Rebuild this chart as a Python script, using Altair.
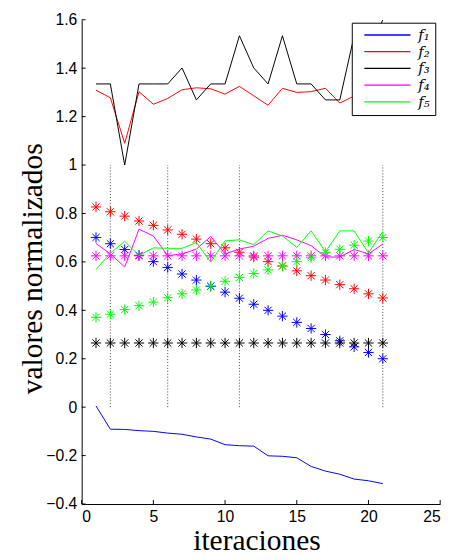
import altair as alt
import pandas as pd

iters = [1, 2, 3, 4, 5, 6, 7, 8, 9, 10, 11, 12, 13, 14, 15, 16, 17, 18, 19, 20, 21]
series_names = ["f₁", "f₂", "f₃", "f₄", "f₅"]
marker_keys = ["m1", "m2", "m3", "m4", "m5"]
series_colors = ["#0000ff", "#ff0000", "#000000", "#ff00ff", "#00ff00"]

# lines
f1_line = [0.005, -0.091, -0.092, -0.097, -0.100, -0.107, -0.112, -0.123, -0.132, -0.155, -0.159,
           -0.161, -0.201, -0.203, -0.209, -0.245, -0.264, -0.277, -0.297, -0.304, -0.316]
f2_line = [1.309, 1.278, 1.090, 1.303, 1.251, 1.275, 1.311, 1.319, 1.315, 1.293, 1.325,
           1.286, 1.247, 1.317, 1.300, 1.303, 1.317, 1.256, 1.285, 1.300, 1.290]
f3_line = [1.335, 1.335, 1.000, 1.335, 1.335, 1.335, 1.401, 1.269, 1.335, 1.335, 1.534,
           1.401, 1.335, 1.534, 1.335, 1.335, 1.269, 1.269, 1.534, 1.468, 1.600]
f4_line = [0.676, 0.633, 0.579, 0.735, 0.707, 0.626, 0.633, 0.653, 0.705, 0.633, 0.653,
           0.665, 0.697, 0.710, 0.691, 0.667, 0.620, 0.620, 0.651, 0.633, 0.674]
f5_line = [0.568, 0.636, 0.685, 0.626, 0.658, 0.656, 0.656, 0.680, 0.599, 0.687, 0.691,
           0.671, 0.728, 0.707, 0.660, 0.728, 0.642, 0.728, 0.728, 0.637, 0.726]

# asterisk markers
f1_pts = [0.701, 0.675, 0.651, 0.627, 0.601, 0.577, 0.550, 0.525, 0.499, 0.475, 0.450,
          0.425, 0.400, 0.376, 0.350, 0.325, 0.300, 0.274, 0.249, 0.226, 0.200]
f2_pts = [0.827, 0.807, 0.789, 0.769, 0.751, 0.732, 0.714, 0.694, 0.675, 0.658, 0.640,
          0.620, 0.601, 0.583, 0.563, 0.543, 0.525, 0.506, 0.489, 0.468, 0.451]
f3_pts = [0.265, 0.265, 0.265, 0.265, 0.265, 0.265, 0.265, 0.265, 0.265, 0.265, 0.265,
          0.265, 0.265, 0.265, 0.265, 0.265, 0.265, 0.265, 0.265, 0.265, 0.265]
f4_pts = [0.625, 0.625, 0.625, 0.625, 0.625, 0.625, 0.625, 0.625, 0.625, 0.625, 0.625,
          0.625, 0.625, 0.625, 0.625, 0.625, 0.625, 0.625, 0.625, 0.625, 0.625]
f5_pts = [0.371, 0.384, 0.403, 0.419, 0.434, 0.452, 0.468, 0.484, 0.501, 0.520, 0.536,
          0.552, 0.567, 0.583, 0.601, 0.617, 0.638, 0.652, 0.669, 0.686, 0.701]

vline_x = [2, 6, 11, 21]
vline_y0 = [0, 0, 0, 0]
vline_y1 = [1, 1, 1, 1]

x_ticks = [0, 5, 10, 15, 20, 25]
y_ticks = [-0.4, -0.2, 0, 0.2, 0.4, 0.6, 0.8, 1.0, 1.2, 1.4, 1.6]

lines = [f1_line, f2_line, f3_line, f4_line, f5_line]
pts = [f1_pts, f2_pts, f3_pts, f4_pts, f5_pts]

line_rows, pt_rows = [], []
for name, key, lv, pv in zip(series_names, marker_keys, lines, pts):
    for i, a, b in zip(iters, lv, pv):
        line_rows.append({"serie": name, "it": i, "v": a})
        pt_rows.append({"serie_m": key, "it": i, "v": b})
line_df = pd.DataFrame(line_rows)
pt_df = pd.DataFrame(pt_rows)
vl_df = pd.DataFrame({"x": vline_x, "y0": vline_y0, "y1": vline_y1})
xt_df = pd.DataFrame({"t": x_ticks})
yt_df = pd.DataFrame({"t": y_ticks})

W, H = 365, 493
xs = alt.Scale(domain=[0, 25], nice=False, zero=False)
ys = alt.Scale(domain=[-0.4, 1.6], nice=False, zero=False)

xaxis = alt.Axis(values=x_ticks, grid=False, ticks=False, domainColor="black", domainWidth=1,
                 labelFont="Liberation Sans", labelFontSize=16, labelColor="black", labelPadding=5,
                 title="iteraciones", titleFont="Liberation Serif", titleFontSize=30,
                 titleFontWeight="normal", titleColor="black", titleBaseline="alphabetic",
                 titleY=46, titleX=178)
yaxis = alt.Axis(values=y_ticks, format=".1~f", grid=False, ticks=False, domainColor="black",
                 domainWidth=1, labelFont="Liberation Sans", labelFontSize=16, labelColor="black",
                 labelPadding=5, title="valores normalizados", titleFont="Liberation Serif",
                 titleFontSize=30, titleFontWeight="normal", titleColor="black",
                 titleX=-41, titleY=253, titleBaseline="alphabetic")

vlines = alt.Chart(vl_df).mark_rule(color="#444444", strokeWidth=1, strokeDash=[1, 2]).encode(
    x=alt.X("x:Q", scale=xs, axis=xaxis),
    y=alt.Y("y0:Q", scale=ys, axis=yaxis),
    y2="y1:Q",
)

legend_line = "M-4.7,0H4.7"
line_layer = alt.Chart(line_df).mark_line(strokeWidth=1, clip=True).encode(
    x=alt.X("it:Q", scale=xs),
    y=alt.Y("v:Q", scale=ys),
    color=alt.Color("serie:N", scale=alt.Scale(domain=series_names, range=series_colors),
                    legend=alt.Legend(title=None, orient="none", legendX=275, legendY=3,
                                      symbolType=legend_line, symbolSize=100,
                                      symbolStrokeWidth=1.3, symbolOffset=23.8,
                                      labelFont="DejaVu Serif", labelFontStyle="italic",
                                      labelFontSize=15, labelColor="black", labelOffset=24,
                                      labelExpr="datum.label + '\u00a0\u2009'",
                                      strokeColor="black", fillColor="white", padding=5,
                                      rowPadding=1)),
    order="it:Q",
)

asterisk = "M-1,0L1,0M0,-1L0,1M-0.7,-0.7L0.7,0.7M-0.7,0.7L0.7,-0.7"
pt_layer = alt.Chart(pt_df).mark_point(shape=asterisk, filled=False, size=110, strokeWidth=1,
                                       opacity=1).encode(
    x=alt.X("it:Q", scale=xs),
    y=alt.Y("v:Q", scale=ys),
    stroke=alt.Stroke("serie_m:N", scale=alt.Scale(domain=marker_keys, range=series_colors),
                      legend=None),
)

xticks = alt.Chart(xt_df).mark_rule(color="black", strokeWidth=1).encode(
    x=alt.X("t:Q", scale=xs), y=alt.value(H), y2=alt.value(H - 4))
yticks = alt.Chart(yt_df).mark_rule(color="black", strokeWidth=1).encode(
    y=alt.Y("t:Q", scale=ys), x=alt.value(0), x2=alt.value(4))

chart = alt.layer(vlines, pt_layer, line_layer, xticks, yticks).properties(
    width=W, height=H,
    autosize=alt.AutoSizeParams(type="none"),
    padding={"left": 75, "top": 7, "right": 10, "bottom": 51},
    background="white",
).configure_view(stroke=None)

chart.save("out.html", embed_options={"renderer": "svg", "actions": False})
